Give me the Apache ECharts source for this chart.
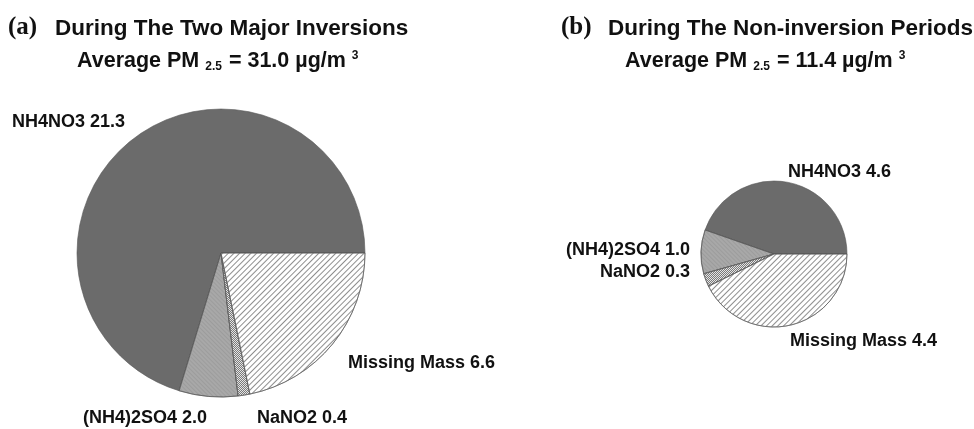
<!DOCTYPE html>
<html><head><meta charset="utf-8">
<script src="https://cdn.jsdelivr.net/npm/echarts@6/dist/echarts.min.js"></script>
<style>html,body{margin:0;padding:0;background:#fff}#c{width:974px;height:429px}</style>
</head><body><div id="c"></div>
<script>
const species = ['NH4NO3', '(NH4)2SO4', 'NaNO2', 'Missing Mass'];
const inversionValues = [21.3, 2.0, 0.4, 6.6];
const nonInversionValues = [4.6, 1.0, 0.3, 4.4];
const panelLetters = ['(a)', '(b)'];
const panelTitles = ['During The Two Major Inversions', 'During The Non-inversion Periods'];
const averagePM = ['31.0', '11.4'];

// styling / layout (not data)
const FONT = '"Liberation Sans", Arial, sans-serif';
const sliceStyles = [
  { color: '#6b6b6b' },
  { color: '#a8a8a8', decal: { symbol: 'rect', dashArrayX: [1, 0], dashArrayY: [1, 2], rotation: Math.PI / 4, color: 'rgba(0,0,0,0.07)' } },
  { color: '#e4e4e4', decal: { symbol: 'rect', symbolSize: 1, dashArrayX: [[1, 1], [0, 1, 1, 0]], dashArrayY: [1, 0], color: '#7a7a7a' } },
  { color: '#ffffff', decal: { symbol: 'rect', dashArrayX: [1, 0], dashArrayY: [1, 2.5], rotation: -Math.PI / 4, color: '#8e8e8e' } }
];
const labelPos = [
  [[12, 122, 'left'], [83, 418, 'left'], [257, 418, 'left'], [348, 363, 'left']],
  [[788, 172, 'left'], [690, 250, 'right'], [690, 272, 'right'], [790, 341, 'left']]
];
const centers = [[221, 253], [774, 254]];
const radii = [144, 73];

function makeSeries(i, values) {
  return {
    type: 'pie',
    center: centers[i],
    radius: radii[i],
    startAngle: 0,
    clockwise: false,
    animation: false,
    silent: true,
    itemStyle: { borderColor: '#555', borderWidth: 0.6 },
    label: {
      show: true,
      overflow: 'none',
      formatter: p => p.name + ' ' + p.value.toFixed(1),
      fontFamily: FONT, fontWeight: 'bold', fontSize: 18, color: '#111'
    },
    labelLine: { show: false },
    labelLayout: p => {
      const lp = labelPos[i][p.dataIndex];
      return { x: lp[0], y: lp[1], align: lp[2], verticalAlign: 'middle' };
    },
    data: species.map((s, k) => ({ name: s, value: values[k], itemStyle: sliceStyles[k] }))
  };
}

function titleGraphics(i, x, y, tx, x2) {
  return [
    { type: 'text', left: x, top: y - 2, style: { text: panelLetters[i], font: 'bold 25px "Liberation Serif", "Times New Roman", serif', fill: '#111' } },
    { type: 'text', left: tx, top: y, style: { text: panelTitles[i], font: 'bold 22.5px ' + FONT, fill: '#111' } },
    { type: 'text', left: x2, top: y + 33, style: {
      text: '{m|Average PM }{s|2.5}{m| = ' + averagePM[i] + ' µg/m }{p|3}',
      rich: {
        m: { font: 'bold 21.5px ' + FONT, fill: '#111', verticalAlign: 'bottom' },
        s: { font: 'bold 12px ' + FONT, fill: '#111', padding: [0, 1, -11, 0] },
        p: { font: 'bold 12px ' + FONT, fill: '#111', padding: [0, 0, 10, 0] }
      }
    } }
  ];
}

const chart = echarts.init(document.getElementById('c'), null, { renderer: 'canvas' });
chart.setOption({
  backgroundColor: '#fff',
  series: [makeSeries(0, inversionValues), makeSeries(1, nonInversionValues)],
  graphic: [].concat(titleGraphics(0, 8, 17, 55, 77), titleGraphics(1, 561, 17, 608, 625))
});
</script></body></html>
